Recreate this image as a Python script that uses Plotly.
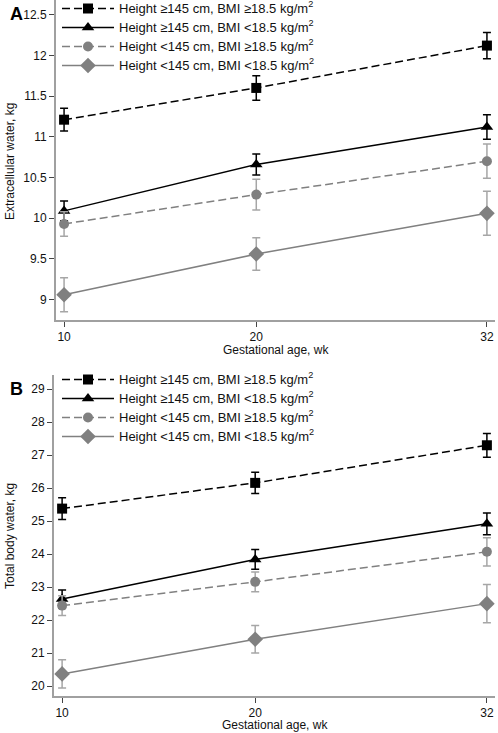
import plotly.graph_objects as go

weeks = [10, 20, 32]
series_names = [
    "Height \u2265145 cm, BMI \u226518.5 kg/m<sup>2</sup>",
    "Height \u2265145 cm, BMI <18.5 kg/m<sup>2</sup>",
    "Height <145 cm, BMI \u226518.5 kg/m<sup>2</sup>",
    "Height <145 cm, BMI <18.5 kg/m<sup>2</sup>",
]

# Panel A: extracellular water (kg)
ew_tall_normal = [11.21, 11.60, 12.12]
ew_tall_normal_err = [0.14, 0.15, 0.16]
ew_tall_low = [10.09, 10.66, 11.12]
ew_tall_low_err = [0.12, 0.13, 0.15]
ew_short_normal = [9.93, 10.29, 10.70]
ew_short_normal_err = [0.15, 0.19, 0.21]
ew_short_low = [9.06, 9.56, 10.06]
ew_short_low_err = [0.21, 0.20, 0.27]

# Panel B: total body water (kg)
tbw_tall_normal = [25.38, 26.16, 27.30]
tbw_tall_normal_err = [0.33, 0.32, 0.36]
tbw_tall_low = [22.64, 23.84, 24.92]
tbw_tall_low_err = [0.27, 0.30, 0.33]
tbw_short_normal = [22.44, 23.16, 24.07]
tbw_short_normal_err = [0.30, 0.30, 0.43]
tbw_short_low = [20.37, 21.42, 22.50]
tbw_short_low_err = [0.43, 0.42, 0.58]

x_ticks = [10, 20, 32]
ew_ticks = [9, 9.5, 10, 10.5, 11, 11.5, 12, 12.5]
tbw_ticks = [20, 21, 22, 23, 24, 25, 26, 27, 28, 29]

x_title = "Gestational age, wk"
ew_title = "Extracellular water, kg"
tbw_title = "Total body water, kg"

styles = [
    dict(color="#000000", err="#000000", dash="8px,4px", symbol="square", size=10),
    dict(color="#000000", err="#000000", dash="solid", symbol="triangle-up", size=11),
    dict(color="#808080", err="#a6a6a6", dash="8px,4px", symbol="circle", size=10),
    dict(color="#808080", err="#a6a6a6", dash="solid", symbol="diamond", size=12),
]

FONT = "Liberation Sans, Arial, sans-serif"
fig = go.Figure()

panelA = [(ew_tall_normal, ew_tall_normal_err), (ew_tall_low, ew_tall_low_err),
          (ew_short_normal, ew_short_normal_err), (ew_short_low, ew_short_low_err)]
panelB = [(tbw_tall_normal, tbw_tall_normal_err), (tbw_tall_low, tbw_tall_low_err),
          (tbw_short_normal, tbw_short_normal_err), (tbw_short_low, tbw_short_low_err)]

for panel, xa, ya, leg in [(panelA, "x", "y", "legend"), (panelB, "x2", "y2", "legend2")]:
    for (vals, errs), name, st in zip(panel, series_names, styles):
        fig.add_trace(go.Scatter(
            x=weeks, y=vals, name='<span style="font-size:13px">' + name + '</span>',
            mode="lines+markers",
            xaxis=xa, yaxis=ya, legend=leg, cliponaxis=False,
            line=dict(color=st["color"], width=1.5, dash=st["dash"]),
            marker=dict(symbol=st["symbol"], size=st["size"], color=st["color"]),
            error_y=dict(type="data", array=errs, visible=True, color=st["err"],
                         thickness=1.5, width=4),
        ))

W, H = 498, 733
L, R = 54, 3
pw = W - L - R

def ydom(top_px, bot_px):
    return [(H - bot_px) / H, (H - top_px) / H]

axis_common = dict(
    showgrid=False, zeroline=False, showline=True, linecolor="#a0a0a0", linewidth=2,
    ticks="outside", ticklen=5, tickcolor="#444", tickwidth=1, automargin=False,
    tickfont=dict(family=FONT, size=12, color="#111"),
)

legend_common = dict(xanchor="left", yanchor="top", bgcolor="rgba(0,0,0,0)",
                     font=dict(family=FONT, size=11.2, color="#111"), tracegroupgap=0,
                     itemwidth=52, itemclick=False, itemdoubleclick=False)

def px_x(px):
    return (px - L) / pw

def px_y(px):
    return (H - px) / H

title_font = dict(family=FONT, size=12, color="#111")

fig.update_layout(
    width=W, height=H,
    margin=dict(l=L, r=R, t=0, b=0, autoexpand=False),
    paper_bgcolor="white", plot_bgcolor="white",
    font=dict(family=FONT, size=12, color="#111"),
    hovermode=False,
    xaxis=dict(axis_common, domain=[2 / pw, 1], range=[9.58, 32.42], tickvals=x_ticks, anchor="y"),
    yaxis=dict(axis_common, domain=ydom(0, 320), range=[8.75, 12.68], tickvals=ew_ticks, anchor="x"),
    xaxis2=dict(axis_common, domain=[0, 1], range=[9.58, 32.42], tickvals=x_ticks, anchor="y2"),
    yaxis2=dict(axis_common, domain=ydom(375, 696), range=[19.7, 29.43], tickvals=tbw_ticks, anchor="x2"),
    legend=dict(legend_common, x=px_x(57), y=px_y(-6)),
    legend2=dict(legend_common, x=px_x(57), y=px_y(365)),
    showlegend=True,
    annotations=[
        dict(text="<b>A</b>", xref="paper", yref="paper", x=px_x(8), y=px_y(14),
             xanchor="left", yanchor="middle", showarrow=False, font=dict(family=FONT, size=18, color="#000")),
        dict(text="<b>B</b>", xref="paper", yref="paper", x=px_x(8), y=px_y(389),
             xanchor="left", yanchor="middle", showarrow=False, font=dict(family=FONT, size=18, color="#000")),
        dict(text=x_title, xref="paper", yref="paper", x=px_x(276), y=px_y(350),
             xanchor="center", yanchor="middle", showarrow=False, font=title_font),
        dict(text=x_title, xref="paper", yref="paper", x=px_x(275), y=px_y(725),
             xanchor="center", yanchor="middle", showarrow=False, font=title_font),
        dict(text=ew_title, xref="paper", yref="paper", x=px_x(10), y=px_y(162),
             xanchor="center", yanchor="middle", textangle=-90, showarrow=False, font=title_font),
        dict(text=tbw_title, xref="paper", yref="paper", x=px_x(10), y=px_y(536),
             xanchor="center", yanchor="middle", textangle=-90, showarrow=False, font=title_font),
    ],
)

fig.write_html("out.html", config={"displayModeBar": False},
               post_script="document.body.style.margin='0';document.body.style.padding='0';")
